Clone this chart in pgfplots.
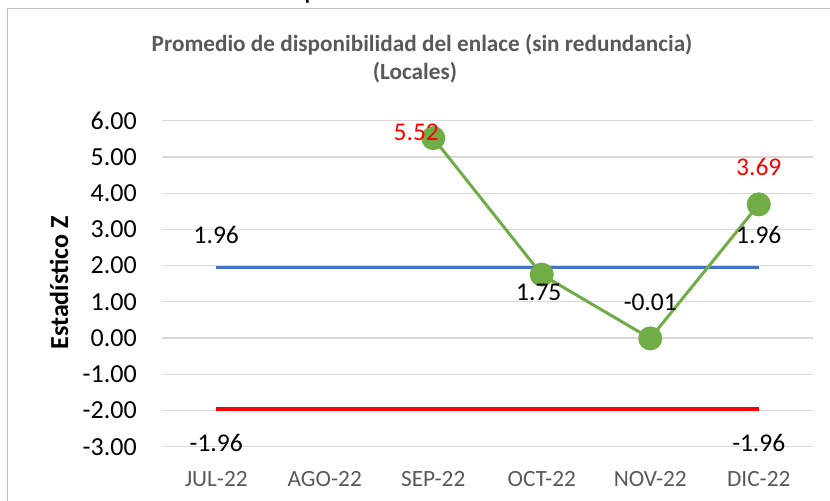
\documentclass[border=0pt]{standalone}
\usepackage{fontspec}
\setmainfont{Carlito}
\usepackage{pgfplots}
\pgfplotsset{compat=1.18}
\definecolor{grn}{HTML}{70AD47}
\definecolor{blu}{HTML}{4472C4}
\definecolor{rd}{HTML}{FF0000}
\definecolor{grd}{HTML}{D9D9D9}
\definecolor{txtg}{HTML}{595959}
\definecolor{frm}{HTML}{BFBFBF}
\begin{document}
\begin{tikzpicture}[x=1bp,y=1bp]
\useasboundingbox (0,0) rectangle (830,501);
\begin{scope}
\clip (0,0) rectangle (830,501);
\draw[frm, line width=1.5bp] (7.5,-5) -- (7.5,492.5) -- (840,492.5);
\node[anchor=base, inner sep=0pt, font=\fontsize{30bp}{30bp}\selectfont] at (312,502) {p};
\end{scope}
\node[anchor=base, inner sep=0pt, text=txtg, font=\fontsize{23.2bp}{23.2bp}\selectfont\bfseries] at (422,449) {Promedio de disponibilidad del enlace (sin redundancia)};
\node[anchor=base, inner sep=0pt, text=txtg, font=\fontsize{23.2bp}{23.2bp}\selectfont\bfseries] at (415,421) {(Locales)};
\node[rotate=90, anchor=base, inner sep=0pt, font=\fontsize{26bp}{26bp}\selectfont\bfseries] at (68,218) {Estadístico Z};
\begin{axis}[
  at={(162bp,54.3bp)}, anchor=south west, scale only axis,
  width=651bp, height=326bp,
  xmin=-0.5, xmax=5.5, ymin=-3, ymax=6,
  clip=false,
  axis line style={draw=none},
  major tick style={draw=none},
  ymajorgrids, grid style={grd, line width=1.2bp},
  xtick={0,1,2,3,4,5},
  xticklabels={JUL-22,AGO-22,SEP-22,OCT-22,NOV-22,DIC-22},
  ytick={-3,-2,-1,0,1,2,3,4,5,6},
  yticklabels={-3.00,-2.00,-1.00,0.00,1.00,2.00,3.00,4.00,5.00,6.00},
  yticklabel style={anchor=east, inner sep=0pt, xshift=-25bp, font=\fontsize{26bp}{26bp}\selectfont},
  xticklabel style={anchor=north, inner sep=0pt, yshift=-24bp, text=txtg, font=\fontsize{23.3bp}{23.3bp}\selectfont},
]
\addplot[blu, line width=3bp] coordinates {(0,1.96) (1,1.96) (2,1.96) (3,1.96) (4,1.96) (5,1.96)};
\addplot[rd, line width=3.5bp] coordinates {(0,-1.96) (1,-1.96) (2,-1.96) (3,-1.96) (4,-1.96) (5,-1.96)};
\addplot[grn, line width=3bp, mark=*, mark size=10.5bp, mark options={solid, fill=grn, draw=grn}] coordinates {(2,5.52) (3,1.75) (4,-0.01) (5,3.69)};
\coordinate (bJ) at (axis cs:0,1.96);
\coordinate (bD) at (axis cs:5,1.96);
\coordinate (rJ) at (axis cs:0,-1.96);
\coordinate (rD) at (axis cs:5,-1.96);
\coordinate (gS) at (axis cs:2,5.52);
\coordinate (gO) at (axis cs:3,1.75);
\coordinate (gN) at (axis cs:4,-0.01);
\coordinate (gD) at (axis cs:5,3.69);
\end{axis}
\begin{scope}[every node/.style={inner sep=0pt, font=\fontsize{25.5bp}{25.5bp}\selectfont}]
\node at (bJ) [yshift=32bp] {1.96};
\node at (bD) [yshift=32bp] {1.96};
\node at (rJ) [yshift=-34bp] {-1.96};
\node at (rD) [yshift=-34bp] {-1.96};
\node[text=rd] at (gS) [xshift=-17bp, yshift=6bp] {5.52};
\node at (gO) [xshift=-3bp, yshift=-17.4bp] {1.75};
\node at (gN) [yshift=36bp] {-0.01};
\node[text=rd] at (gD) [yshift=37bp] {3.69};
\end{scope}
\end{tikzpicture}
\end{document}
